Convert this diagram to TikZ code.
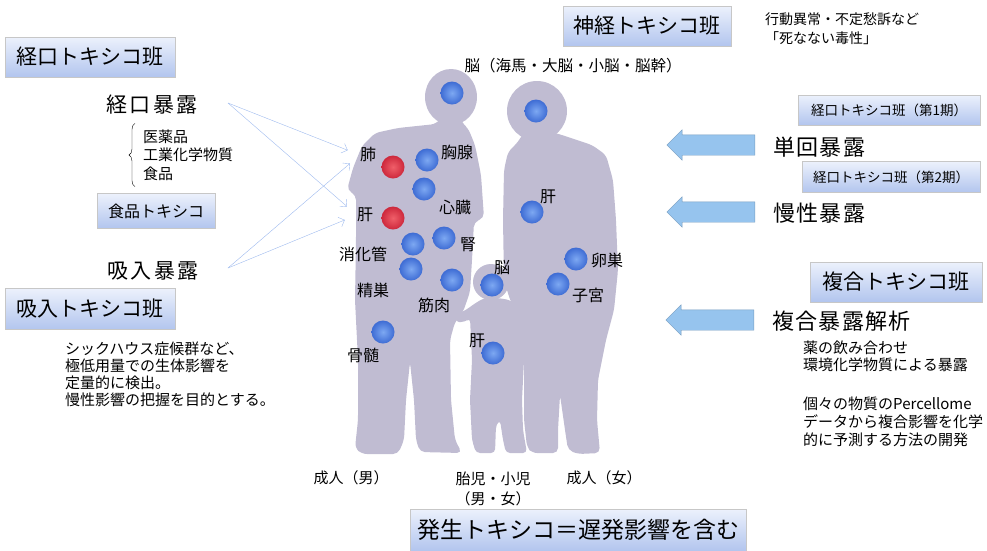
\documentclass[tikz,border=0pt]{standalone}
\usepackage{fontspec}
\setmainfont{Noto Sans CJK JP}
\usepackage{tikz}
\usetikzlibrary{arrows.meta,shapes.arrows,decorations.pathreplacing,positioning}

\definecolor{silh}{RGB}{192,188,210}
\definecolor{boxtop}{RGB}{236,241,252}
\definecolor{boxbot}{RGB}{178,197,238}
\definecolor{dotblue}{RGB}{62,108,212}
\definecolor{dotbluehi}{RGB}{125,168,242}
\definecolor{dotred}{RGB}{205,40,60}
\definecolor{dotredhi}{RGB}{240,95,105}
\definecolor{feedblue}{RGB}{158,186,238}
\definecolor{bigarrow}{RGB}{150,196,238}

\newcommand{\fs}[2]{\fontsize{#1}{#2}\selectfont}

\tikzset{
  teambox/.style={rectangle, top color=boxtop, bottom color=boxbot, draw=black!22, inner sep=0pt},
  organ/.style={circle, minimum size=23pt, inner sep=0pt, inner color=dotbluehi, outer color=dotblue},
  organred/.style={organ, inner color=dotredhi, outer color=dotred},
  orglabel/.style={font=\fs{16}{16}, inner sep=0pt},
  expo/.style={font={\fs{21}{21}\addfontfeature{LetterSpace=10}}, inner sep=0pt},
  note/.style={font=\fs{15}{17}, align=left, inner sep=0pt},
  leftarrow/.style={single arrow, shape border rotate=180, fill=bigarrow, draw=bigarrow!80!black,
    minimum height=88pt, minimum width=30pt, inner sep=10pt, single arrow head extend=5pt},
  feed/.style={-{Straight Barb[length=5pt,width=10pt]}, draw=feedblue, shorten >=13pt},
}

\begin{document}
\begin{tikzpicture}[x=1pt, y=-1pt]
\useasboundingbox (0,0) rectangle (987,550);
\clip (0,0) rectangle (987,550);

% --- silhouettes ---
% man
\fill[silh] (451,97) ellipse [x radius=26pt, y radius=28pt];
\fill[silh, rounded corners=5pt] (441,118) -- (436,124) -- (398,128) -- (375,133) -- (362,146)
  -- (353,168) -- (347,190) -- (356,195) -- (356,240) -- (355,300) -- (358,360) -- (358,420)
  -- (355,448) -- (362,454) -- (398,454) -- (404,440) -- (406,400) -- (410,362) -- (414,400)
  -- (416,440) -- (420,452) -- (462,453) -- (455,440) -- (451,400) -- (450,340) -- (455,322)
  -- (463,312) -- (470,292) -- (472,260) -- (474,222) -- (484,218) -- (481,175) -- (475,145)
  -- (468,128) -- (462,123) -- (460,116) -- cycle;
% woman
\fill[silh] (537,111) ellipse [x radius=30pt, y radius=30pt];
\fill[silh, rounded corners=5pt] (524,132) -- (518,142) -- (508,152) -- (504,170) -- (503,220)
  -- (504,280) -- (510,300) -- (520,318) -- (524,360) -- (524,420) -- (527,447) -- (532,453)
  -- (558,453) -- (558,430) -- (560,395) -- (565,430) -- (568,450) -- (578,454) -- (600,453)
  -- (597,420) -- (598,380) -- (606,340) -- (614,310) -- (618,270) -- (616,220) -- (613,180)
  -- (606,155) -- (592,145) -- (565,136) -- (552,132) -- cycle;
% child
\fill[silh] (491,282) circle [radius=18pt];
\fill[silh, rounded corners=4pt] (484,298) -- (474,304) -- (466,310) -- (457,314) -- (455,322)
  -- (465,322) -- (470,318) -- (472,360) -- (470,400) -- (472,440) -- (476,453) -- (495,453)
  -- (496,425) -- (500,420) -- (503,440) -- (506,453) -- (527,453) -- (523,430) -- (522,400)
  -- (524,360) -- (526,330) -- (522,310) -- (510,300) -- (498,298) -- cycle;

% --- organs ---
\node[organ]    (dBrainM)  at (452,93)  {};
\node[organ]    (dBrainW)  at (536,111) {};
\node[organred] (dLungM)   at (393,167) {};
\node[organ]    (dThymus)  at (427,160) {};
\node[organ]    (dHeart)   at (424,189) {};
\node[organred] (dLiverM)  at (393,218) {};
\node[organ]    (dKidney)  at (444,238) {};
\node[organ]    (dGut)     at (413,244) {};
\node[organ]    (dTestis)  at (411,269) {};
\node[organ]    (dMuscle)  at (452,280) {};
\node[organ]    (dBrainC)  at (492,285) {};
\node[organ]    (dMarrow)  at (383,332) {};
\node[organ]    (dLiverC)  at (493,353) {};
\node[organ]    (dLiverW)  at (532,212) {};
\node[organ]    (dOvary)   at (576,259) {};
\node[organ]    (dUterus)  at (558,284) {};

\node[orglabel, font=\fs{15.5}{15.5}] (lBrain) at (573,66) {脳（海馬・大脳・小脳・脳幹）};
\node[orglabel] (lLungM)  at (368,155) {肺};
\node[orglabel] (lThymus) at (457,152) {胸腺};
\node[orglabel] (lHeart)  at (455,207) {心臓};
\node[orglabel] (lLiverM) at (365,215) {肝};
\node[orglabel] (lKidney) at (468,245) {腎};
\node[orglabel] (lGut)    at (363,254) {消化管};
\node[orglabel] (lTestis) at (373,290) {精巣};
\node[orglabel] (lMuscle) at (434,305) {筋肉};
\node[orglabel] (lBrainC) at (502,268) {脳};
\node[orglabel] (lMarrow) at (363,355) {骨髄};
\node[orglabel] (lLiverC) at (477,341) {肝};
\node[orglabel] (lLiverW) at (548,197) {肝};
\node[orglabel] (lOvary)  at (607,260) {卵巣};
\node[orglabel] (lUterus) at (588,295) {子宮};

\node[orglabel, font=\fs{15}{15}] (adultM) at (351,478) {成人（男）};
\node[orglabel, font=\fs{15}{15}] (child)  at (493,479) {胎児・小児};
\node[orglabel, font=\fs{15}{15}] (childS) at (493,499) {（男・女）};
\node[orglabel, font=\fs{15}{15}] (adultW) at (604,478) {成人（女）};

% --- left side: oral / inhalation ---
\node[teambox, minimum width=170pt, minimum height=40pt, font=\fs{21}{21}] (oralTeam) at (90,57) {経口トキシコ班};
\node[expo] (oral) at (152,105) {経口暴露};
\node[note, font=\fs{15}{18.5}, anchor=west] (items) at (143,155) {医薬品\\工業化学物質\\食品};
\draw[decorate, decoration={brace, amplitude=6pt}]
  ([xshift=-8pt, yshift=-6pt]items.south west) -- ([xshift=-8pt, yshift=6pt]items.north west);
\node[teambox, minimum width=118pt, minimum height=35pt, font=\fs{16}{16}] (foodTeam) at (156,211) {食品トキシコ};

\node[expo] (inhal) at (153,271) {吸入暴露};
\node[teambox, minimum width=170pt, minimum height=41pt, font=\fs{21}{21}] (inhalTeam) at (90,309) {吸入トキシコ班};
\node[note, anchor=north west] (sick) at (65,342)
  {シックハウス症候群など、\\極低用量での生体影響を\\定量的に検出。\\慢性影響の把握を目的とする。};

\coordinate (oralout)  at (228,103);
\coordinate (inhalout) at (228,268);
\draw[feed] (oralout)  -- (lLungM.west);
\draw[feed] (oralout)  -- (lLiverM.west);
\draw[feed] (inhalout) -- (lLungM.west);
\draw[feed] (inhalout) -- (lLiverM.west);

% --- right side ---
\node[teambox, minimum width=168pt, minimum height=40pt, font=\fs{21}{21}] (neuroTeam) at (647,26) {神経トキシコ班};
\node[note, font=\fs{14}{19}, anchor=west] (neuroNote) at (765,29) {行動異常・不定愁訴など\\「死なない毒性」};

\node[teambox, minimum width=182pt, minimum height=30pt, font=\fs{13.5}{13.5}] (oral1) at (889,110) {経口トキシコ班（第1期）};
\node[leftarrow] (arr1) at (716,145) {};
\node[expo, anchor=west, font={\fs{22}{22}\addfontfeature{LetterSpace=6}}] (single) at (773,147) {単回暴露};

\node[teambox, minimum width=178pt, minimum height=31pt, font=\fs{13.5}{13.5}] (oral2) at (891,177) {経口トキシコ班（第2期）};
\node[leftarrow] (arr2) at (716,212) {};
\node[expo, anchor=west, font={\fs{22}{22}\addfontfeature{LetterSpace=6}}] (chronic) at (773,213) {慢性暴露};

\node[teambox, minimum width=172pt, minimum height=40pt, font=\fs{21}{21}] (mixTeam) at (896,282) {複合トキシコ班};
\node[leftarrow] (arr3) at (715,320) {};
\node[expo, anchor=west, font={\fs{22}{22}\addfontfeature{LetterSpace=6}}] (mix) at (772,321) {複合暴露解析};
\node[note, anchor=north west] (mixNote) at (803,341) {薬の飲み合わせ\\環境化学物質による暴露};
\node[note, font=\fs{15}{18}, anchor=north west] (percNote) at (803,397)
  {個々の物質のPercellome\\データから複合影響を化学\\的に予測する方法の開発};

% --- bottom ---
\node[teambox, minimum width=336pt, minimum height=42pt, font=\fs{23}{23}] (develop) at (578,530) {発生トキシコ＝遅発影響を含む};

\end{tikzpicture}
\end{document}
